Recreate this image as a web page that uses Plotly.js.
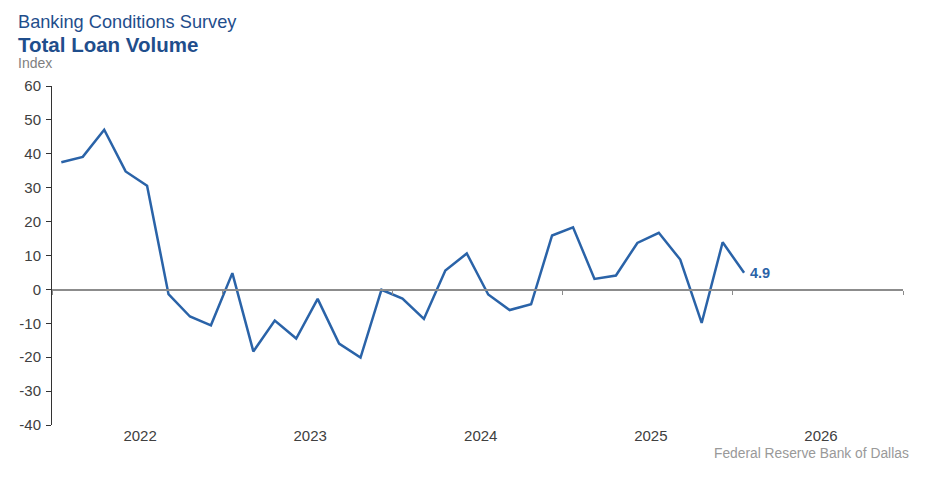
<!DOCTYPE html>
<html>
<head>
<meta charset="utf-8">
<script src="https://cdn.plot.ly/plotly-3.0.1.min.js"></script>
<style>html,body{margin:0;padding:0;background:#fff;}#chart{width:933px;height:486px;}</style>
</head>
<body>
<div id="chart"></div>
<script>
// Survey dates (roughly every six weeks)
const surveyDates = [
  "2022-01-21","2022-03-08","2022-04-23","2022-06-08","2022-07-24","2022-09-08","2022-10-24","2022-12-08",
  "2023-01-23","2023-03-09","2023-04-24","2023-06-09","2023-07-25","2023-09-09","2023-10-25","2023-12-09",
  "2024-01-23","2024-03-09","2024-04-24","2024-06-09","2024-07-25","2024-09-09","2024-10-25","2024-12-09",
  "2025-01-23","2025-03-10","2025-04-25","2025-06-10","2025-07-26","2025-09-10","2025-10-26","2025-12-10",
  "2026-01-25"
];
// Total loan volume index
const loanVolume = [
  37.5, 39.1, 47.1, 34.8, 30.6, -1.4, -8.0, -10.6,
  4.8, -18.3, -9.2, -14.5, -2.8, -16.0, -20.1, -0.1,
  -2.7, -8.7, 5.6, 10.6, -1.5, -6.1, -4.4, 15.9,
  18.3, 3.1, 4.1, 13.7, 16.7, 8.8, -9.9, 13.9,
  4.9
];
const yearLabels = ["2022","2023","2024","2025","2026"];
const yearLabelDates = ["2022-07-09","2023-07-09","2024-07-09","2025-07-09","2026-07-09"];
const xRange = ["2022-01-01","2027-01-01"];
const yTicks = [-40,-30,-20,-10,0,10,20,30,40,50,60];
const yTickLabels = ["-40","-30","-20","-10","0","10","20","30","40","50","60"];

const lineColor = "#2a63a8";
const textColor = "#404040";
const lastIdx = loanVolume.length - 1;
const FONT = "Liberation Sans, Arial, sans-serif";

const traces = [
  {
    x: surveyDates, y: loanVolume, type: "scatter", mode: "lines",
    line: {color: lineColor, width: 2.5}, xaxis: "x", yaxis: "y",
    hoverinfo: "x+y", showlegend: false
  },
  {
    x: surveyDates, y: loanVolume, type: "scatter", mode: "lines",
    line: {color: "rgba(0,0,0,0)", width: 0}, xaxis: "x2", yaxis: "y",
    hoverinfo: "skip", showlegend: false
  }
];

const layout = {
  width: 933, height: 486,
  margin: {l: 52, r: 30, t: 86, b: 61},
  paper_bgcolor: "#fff", plot_bgcolor: "#fff",
  font: {family: FONT, color: textColor, size: 15},
  showlegend: false,
  xaxis: {
    type: "date", range: xRange, showgrid: false, zeroline: false, showline: false,
    ticks: "", tickmode: "array", tickvals: yearLabelDates, ticktext: yearLabels,
    tickfont: {size: 15, color: textColor}, fixedrange: true
  },
  xaxis2: {
    type: "date", range: xRange, overlaying: "x", anchor: "free", position: 0.4,
    matches: "x", showgrid: false, zeroline: false, showline: true, linecolor: "#8c8c8c", linewidth: 1.5,
    ticks: "outside", ticklen: 4, tickcolor: "#8c8c8c", tickwidth: 1,
    tickmode: "linear", tick0: "2022-01-01", dtick: "M12", showticklabels: false
  },
  yaxis: {
    range: [-40, 60], tickmode: "array", tickvals: yTicks, ticktext: yTickLabels, showgrid: false,
    zeroline: false, showline: true, linecolor: "#333", linewidth: 1,
    ticks: "outside", ticklen: 5, tickcolor: "#333", ticklabelstandoff: 2,
    tickfont: {size: 15, color: textColor}, fixedrange: true
  },
  annotations: [
    {xref: "paper", yref: "paper", x: -36/851, y: 1 + (86-34)/339, xanchor: "left", yanchor: "bottom",
     text: "Banking Conditions Survey", showarrow: false,
     font: {size: 18.2, color: "#1f4e8c", family: FONT}},
    {xref: "paper", yref: "paper", x: -36/851, y: 1 + (86-58)/339, xanchor: "left", yanchor: "bottom",
     text: "<b>Total Loan Volume</b>", showarrow: false,
     font: {size: 20.5, color: "#1f4e8c", family: FONT}},
    {xref: "paper", yref: "paper", x: -36/851, y: 1 + (86-73)/339, xanchor: "left", yanchor: "bottom",
     text: "Index", showarrow: false,
     font: {size: 14, color: "#7f7f7f", family: FONT}},
    {xref: "x", yref: "y", x: surveyDates[lastIdx], y: loanVolume[lastIdx], xanchor: "left", yanchor: "middle",
     xshift: 4, text: "<b>" + loanVolume[lastIdx].toFixed(1) + "</b>", showarrow: false,
     font: {size: 14.5, color: lineColor, family: FONT}},
    {xref: "paper", yref: "paper", x: 1.009, y: -0.055, xanchor: "right", yanchor: "top",
     text: "Federal Reserve Bank of Dallas", showarrow: false,
     font: {size: 13.8, color: "#999999", family: FONT}}
  ]
};

Plotly.newPlot("chart", traces, layout, {displayModeBar: false, staticPlot: true});
</script>
</body>
</html>
